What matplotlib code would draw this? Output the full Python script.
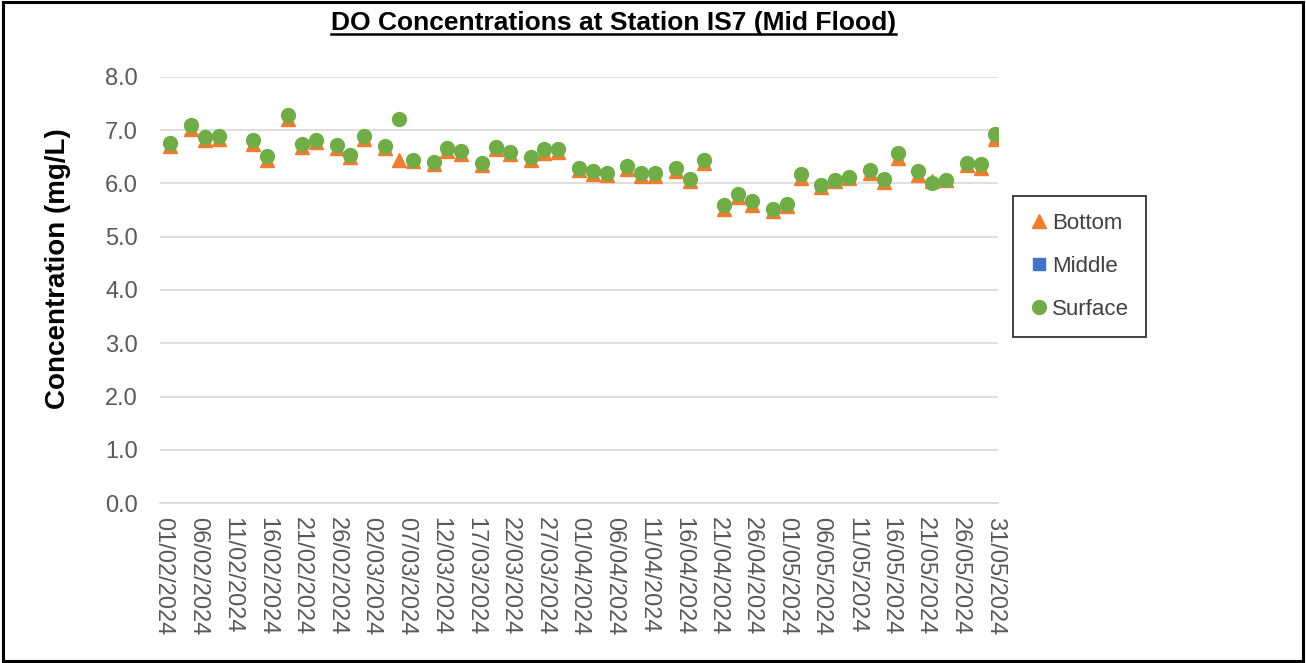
import matplotlib
matplotlib.use("Agg")
import matplotlib.pyplot as plt
import matplotlib.dates as mdates
from matplotlib.lines import Line2D
from matplotlib.patches import Rectangle
import pandas as pd

plt.rcParams['font.family'] = ['Liberation Sans', 'DejaVu Sans']

# sampling dates (dd/mm/yyyy)
dates = ["02/02/2024", "05/02/2024", "07/02/2024", "09/02/2024", "14/02/2024",
         "16/02/2024", "19/02/2024", "21/02/2024", "23/02/2024", "26/02/2024",
         "28/02/2024", "01/03/2024", "04/03/2024", "06/03/2024", "08/03/2024",
         "11/03/2024", "13/03/2024", "15/03/2024", "18/03/2024", "20/03/2024",
         "22/03/2024", "25/03/2024", "27/03/2024", "29/03/2024", "01/04/2024",
         "03/04/2024", "05/04/2024", "08/04/2024", "10/04/2024", "12/04/2024",
         "15/04/2024", "17/04/2024", "19/04/2024", "22/04/2024", "24/04/2024",
         "26/04/2024", "29/04/2024", "01/05/2024", "03/05/2024", "06/05/2024",
         "08/05/2024", "10/05/2024", "13/05/2024", "15/05/2024", "17/05/2024",
         "20/05/2024", "22/05/2024", "24/05/2024", "27/05/2024", "29/05/2024",
         "31/05/2024"]

surface = [6.76, 7.09, 6.87, 6.89, 6.81, 6.51, 7.28, 6.75, 6.82, 6.73,
           6.54, 6.89, 6.71, 7.22, 6.45, 6.41, 6.67, 6.61, 6.39, 6.69,
           6.59, 6.50, 6.64, 6.64, 6.29, 6.23, 6.20, 6.32, 6.19, 6.19,
           6.29, 6.09, 6.44, 5.60, 5.80, 5.67, 5.53, 5.62, 6.18, 5.98,
           6.06, 6.12, 6.26, 6.09, 6.57, 6.23, 6.01, 6.06, 6.39, 6.37,
           6.92]

bottom = [6.70, 7.03, 6.82, 6.84, 6.75, 6.44, 7.21, 6.69, 6.78, 6.67,
          6.50, 6.83, 6.66, 6.45, 6.43, 6.36, 6.61, 6.56, 6.34, 6.64,
          6.55, 6.45, 6.58, 6.59, 6.25, 6.18, 6.16, 6.27, 6.14, 6.14,
          6.24, 6.04, 6.38, 5.52, 5.74, 5.60, 5.48, 5.57, 6.10, 5.94,
          6.04, 6.10, 6.20, 6.03, 6.48, 6.16, 6.04, 6.06, 6.34, 6.30,
          6.83]

middle = []  # no mid-depth readings

x = pd.to_datetime(dates, format="%d/%m/%Y")
start = pd.Timestamp("2024-02-01")
end = pd.Timestamp("2024-05-31")

fig = plt.figure(figsize=(13.06, 6.63), dpi=100)
ax = fig.add_axes([0.1225, 0.2413, 0.6417, 0.6426])

ax.plot(x, bottom, linestyle='none', marker='^', color='#ED7D31',
        markersize=10, label='Bottom', zorder=3)
ax.plot(pd.to_datetime(middle), middle, linestyle='none', marker='s',
        color='#4472C4', markersize=8, label='Middle', zorder=3)
ax.plot(x, surface, linestyle='none', marker='o', color='#70AD47',
        markersize=10, label='Surface', zorder=4)

ax.set_ylim(0, 8)
ax.set_yticks([i for i in range(9)])
ax.yaxis.set_major_formatter(plt.FormatStrFormatter('%.1f'))
ax.set_xlim(start - pd.Timedelta(hours=12), end + pd.Timedelta(hours=12))
ax.set_xticks(pd.date_range(start, end, freq='5D'))
ax.xaxis.set_major_formatter(mdates.DateFormatter('%d/%m/%Y'))

ax.grid(axis='y', color='#d9d9d9', linewidth=1.2)
ax.set_axisbelow(True)
for s in ['top', 'right', 'left']:
    ax.spines[s].set_visible(False)
ax.spines['bottom'].set_color('#d9d9d9')
ax.spines['bottom'].set_linewidth(1.2)
ax.tick_params(axis='both', length=0, colors='#595959', labelsize=17)
ax.tick_params(axis='x', pad=10)
ax.tick_params(axis='y', pad=16)
plt.setp(ax.get_xticklabels(), rotation=270, ha='center', va='top')

ax.set_ylabel("Concentration (mg/L)", fontsize=20, fontweight='bold')
ax.yaxis.set_label_coords(-0.106, 0.549)

leg = ax.legend(loc='upper left', bbox_to_anchor=(1.018, 0.7207), fontsize=16,
                frameon=True, fancybox=False, edgecolor='black',
                borderaxespad=0, labelspacing=1.0, handletextpad=0.15,
                handlelength=0.85, borderpad=0.75, markerscale=1.0)
leg.get_frame().set_linewidth(1.3)
for t in leg.get_texts():
    t.set_color('#404040')

title = fig.text(0.4695, 0.966, "DO Concentrations at Station IS7 (Mid Flood)",
                 ha='center', va='center', fontsize=19, fontweight='bold')

# underline the title
fig.canvas.draw()
bb = title.get_window_extent().transformed(fig.transFigure.inverted())
fig.add_artist(Line2D([bb.x0, bb.x1], [bb.y0 + 0.001, bb.y0 + 0.001],
                      transform=fig.transFigure, color='black', linewidth=1.8))

# outer border
fig.add_artist(Rectangle((0.002, 0.003), 0.996, 0.994, transform=fig.transFigure,
                         fill=False, edgecolor='black', linewidth=2.2))

fig.savefig("out.png", dpi=100)
